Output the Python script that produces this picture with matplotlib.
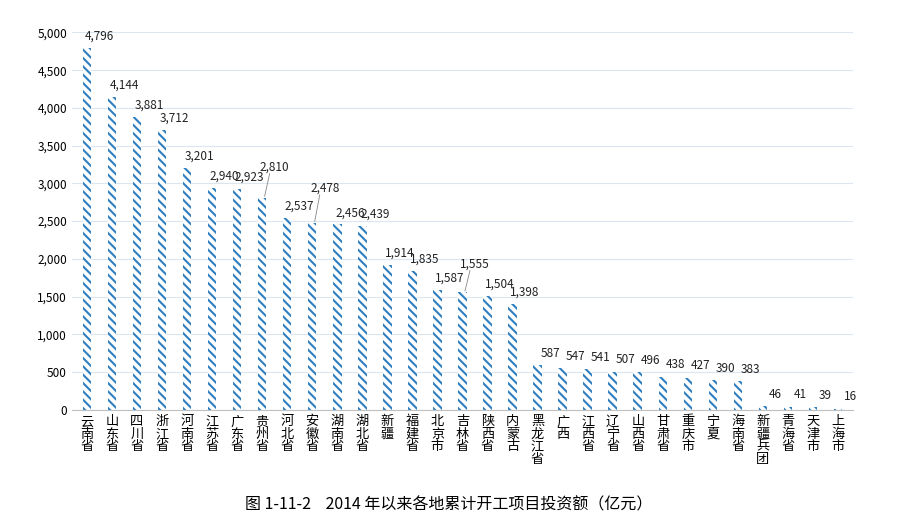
import matplotlib.pyplot as plt
from matplotlib.ticker import FuncFormatter

plt.rcParams['font.family'] = ['Noto Sans CJK SC']
plt.rcParams['hatch.linewidth'] = 1.5

regions = ['云南省', '山东省', '四川省', '浙江省', '河南省', '江苏省', '广东省', '贵州省',
           '河北省', '安徽省', '湖南省', '湖北省', '新疆', '福建省', '北京市', '吉林省',
           '陕西省', '内蒙古', '黑龙江省', '广西', '江西省', '辽宁省', '山西省', '甘肃省',
           '重庆市', '宁夏', '海南省', '新疆兵团', '青海省', '天津市', '上海市']
values = [4796, 4144, 3881, 3712, 3201, 2940, 2923, 2810, 2537, 2478, 2456, 2439,
          1914, 1835, 1587, 1555, 1504, 1398, 587, 547, 541, 507, 496, 438, 427,
          390, 383, 46, 41, 39, 16]
yticks = [0, 500, 1000, 1500, 2000, 2500, 3000, 3500, 4000, 4500, 5000]

fig = plt.figure(figsize=(8.98, 5.24), dpi=100)
ax = fig.add_axes([0.08, 0.218, 0.87, 0.72])

x = list(range(len(regions)))
ax.bar(x, values, width=0.34, color='white', edgecolor='#2f7fc0', linewidth=0,
       hatch='\\\\\\\\')

# a few labels lifted (with a leader line) so neighbours don't collide
lift = {7: 250, 9: 300, 15: 220}
for xi, v in zip(x, values):
    dy = 70 + lift.get(xi, 0)
    ax.text(xi + 0.5, v + dy, f'{v:,}', ha='center', va='bottom', fontsize=8.5, color='#222222')
    if xi in lift:
        ax.plot([xi + 0.1, xi + 0.3], [v + 20, v + dy], color='#888888', linewidth=0.6)

ax.set_xlim(-0.6, len(regions) - 0.4)
ax.set_ylim(0, 5000)
ax.set_yticks(yticks)
ax.yaxis.set_major_formatter(FuncFormatter(lambda v, p: f'{int(v):,}'))
ax.tick_params(axis='y', length=0, labelsize=8.5)
ax.grid(axis='y', color='#dce6f0', linewidth=0.8)
ax.set_axisbelow(True)
for s in ['top', 'right', 'left']:
    ax.spines[s].set_visible(False)
ax.spines['bottom'].set_color('#c0c0c0')

ax.set_xticks(x)
ax.set_xticklabels(['\n'.join(r) for r in regions], fontsize=9.5, linespacing=0.95, va='top')
ax.tick_params(axis='x', length=0, pad=4)

fig.text(0.5, 0.02, '图 1-11-2    2014 年以来各地累计开工项目投资额（亿元）',
         ha='center', va='bottom', fontsize=11.5)

fig.savefig('out.png', dpi=100)
